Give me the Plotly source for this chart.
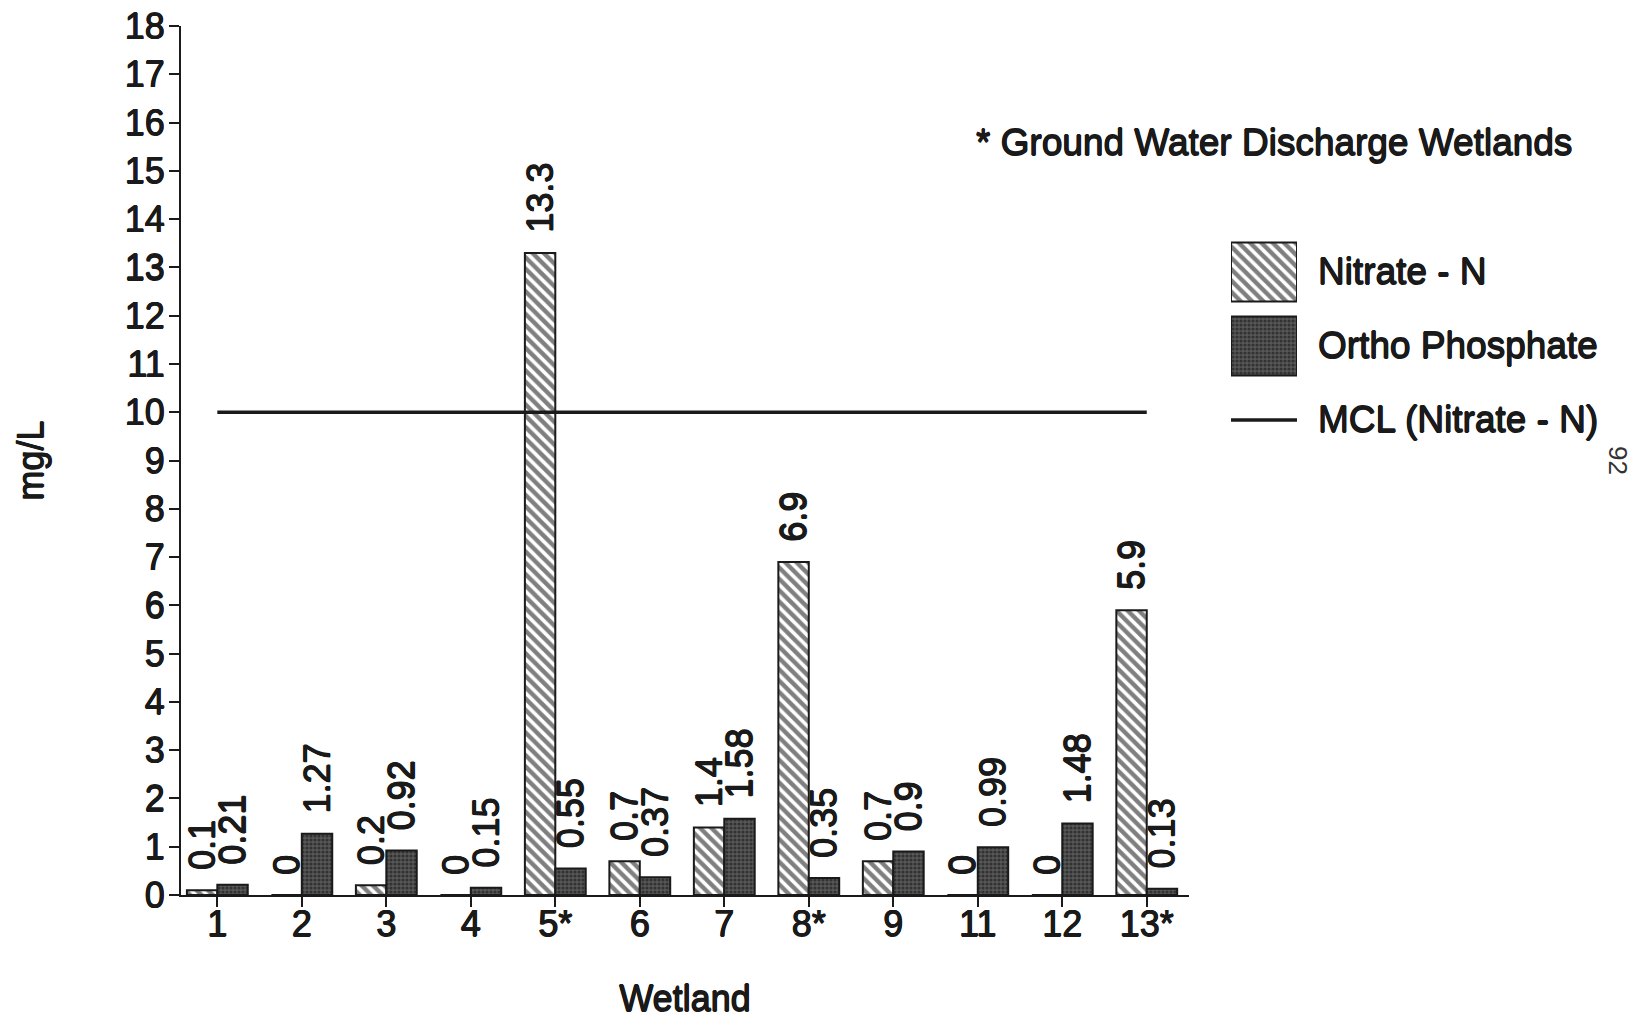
import plotly.graph_objects as go

# Wetland sampling results (mg/L)
wetlands = ["1", "2", "3", "4", "5*", "6", "7", "8*", "9", "11", "12", "13*"]
nitrate_n = [0.1, 0, 0.2, 0, 13.3, 0.7, 1.4, 6.9, 0.7, 0, 0, 5.9]
ortho_phosphate = [0.21, 1.27, 0.92, 0.15, 0.55, 0.37, 1.58, 0.35, 0.9, 0.99, 1.48, 0.13]
mcl_nitrate = 10
series_names = ["Nitrate - N", "Ortho Phosphate", "MCL (Nitrate - N)"]
y_ticks = list(range(0, 19))

FONT = "Liberation Sans, Arial, Helvetica, sans-serif"
INK = "#1a1a1a"
FS = 36
# a light outline gives the type a medium, print-like weight
HEAVY = ", ".join(f"{dx}px {dy}px 0 {INK}" for dx, dy in
                  [(0.6, 0), (-0.6, 0), (0, 0.6), (0, -0.6)])

hatch = dict(shape="\\", bgcolor="white", fgcolor="#000000", size=8, solidity=0.55)
stipple = dict(shape=".", bgcolor="#575757", fgcolor="#0e0e0e", size=4, solidity=0.5)

W, H = 1638, 1019
ML, MR, MT, MB = 181, 10, 26, 124
PW = W - ML - MR
PH = H - MT - MB


def px_x(px):
    return (px - ML) / PW


def px_y(py):
    return (H - MB - py) / PH


label_tpl = "\u00a0\u2009%{y}"
text_font = dict(family=FONT, size=FS, color=INK, shadow=HEAVY)
note_font = dict(family=FONT, size=37, color=INK, shadow=HEAVY)

fig = go.Figure()

fig.add_trace(go.Bar(
    x=wetlands, y=nitrate_n, name=series_names[0],
    marker=dict(color="white", line=dict(color=INK, width=2), pattern=hatch),
    texttemplate=label_tpl, textposition="outside", textangle=-90,
    textfont=text_font, constraintext="none", cliponaxis=False,
    showlegend=False,
))
fig.add_trace(go.Bar(
    x=wetlands, y=ortho_phosphate, name=series_names[1],
    marker=dict(color="#575757", line=dict(color=INK, width=2), pattern=stipple),
    texttemplate=label_tpl, textposition="outside", textangle=-90,
    textfont=text_font, constraintext="none", cliponaxis=False,
    showlegend=False,
))
# MCL reference line across the wetlands
fig.add_trace(go.Scatter(
    x=[wetlands[0], wetlands[-1]], y=[mcl_nitrate, mcl_nitrate],
    mode="lines", line=dict(color=INK, width=3.5), name=series_names[2],
    showlegend=False, hoverinfo="skip",
))

# Legend swatches on a small helper subplot
fig.add_trace(go.Bar(
    x=[1], y=[0], base=0, orientation="h", width=0.8,
    marker=dict(color="white", line=dict(color=INK, width=2), pattern=hatch),
    xaxis="x2", yaxis="y2", showlegend=False, hoverinfo="skip",
))
fig.add_trace(go.Bar(
    x=[1], y=[1], base=0, orientation="h", width=0.8,
    marker=dict(color="#575757", line=dict(color=INK, width=2), pattern=stipple),
    xaxis="x2", yaxis="y2", showlegend=False, hoverinfo="skip",
))
fig.add_trace(go.Scatter(
    x=[-0.05, 1.0], y=[2, 2], mode="lines", line=dict(color=INK, width=3.5),
    xaxis="x2", yaxis="y2", showlegend=False, hoverinfo="skip", cliponaxis=False,
))

annotations = []
for i, name in enumerate(series_names):
    annotations.append(dict(
        x=px_x(1316), xref="paper", y=i, yref="y2", text=name,
        xanchor="left", yanchor="middle", showarrow=False, font=note_font,
    ))
annotations.append(dict(
    x=px_x(974), xref="paper", y=px_y(143), yref="paper",
    text="* Ground Water Discharge Wetlands", xanchor="left", yanchor="middle",
    showarrow=False, font=note_font,
))
annotations.append(dict(
    x=px_x(1618), xref="paper", y=px_y(460), yref="paper", text="92",
    textangle=90, showarrow=False, xanchor="center", yanchor="middle",
    font=dict(family=FONT, size=26, color="#333333"),
))

fig.update_layout(
    width=W, height=H,
    margin=dict(l=ML, r=MR, t=MT, b=MB, autoexpand=False),
    paper_bgcolor="white", plot_bgcolor="white",
    barmode="group", bargap=0.28, bargroupgap=0,
    font=dict(family=FONT, color=INK),
    xaxis=dict(
        domain=[0, px_x(1189)], type="category", range=[-0.43, 11.5],
        showline=True, linecolor=INK, linewidth=2, mirror=False,
        ticks="outside", ticklen=10, tickwidth=2, tickcolor=INK,
        tickfont=text_font, ticklabelstandoff=-14,
        showgrid=False, zeroline=False,
        title=dict(text="Wetland", font=text_font, standoff=52),
    ),
    yaxis=dict(
        range=[0, 18], tickvals=y_ticks,
        showline=True, linecolor=INK, linewidth=2,
        ticks="outside", ticklen=10, tickwidth=2, tickcolor=INK,
        tickfont=text_font, ticklabelstandoff=-3,
        showgrid=False, zeroline=False,
        title=dict(text="mg/L", font=text_font, standoff=70),
    ),
    xaxis2=dict(domain=[px_x(1231), px_x(1297)], range=[0, 1], visible=False,
                anchor="y2", fixedrange=True),
    yaxis2=dict(domain=[px_y(457), px_y(235)], range=[2.5, -0.5], visible=False,
                anchor="x2", fixedrange=True),
    annotations=annotations,
    showlegend=False,
)

fig.write_html("out.html")
